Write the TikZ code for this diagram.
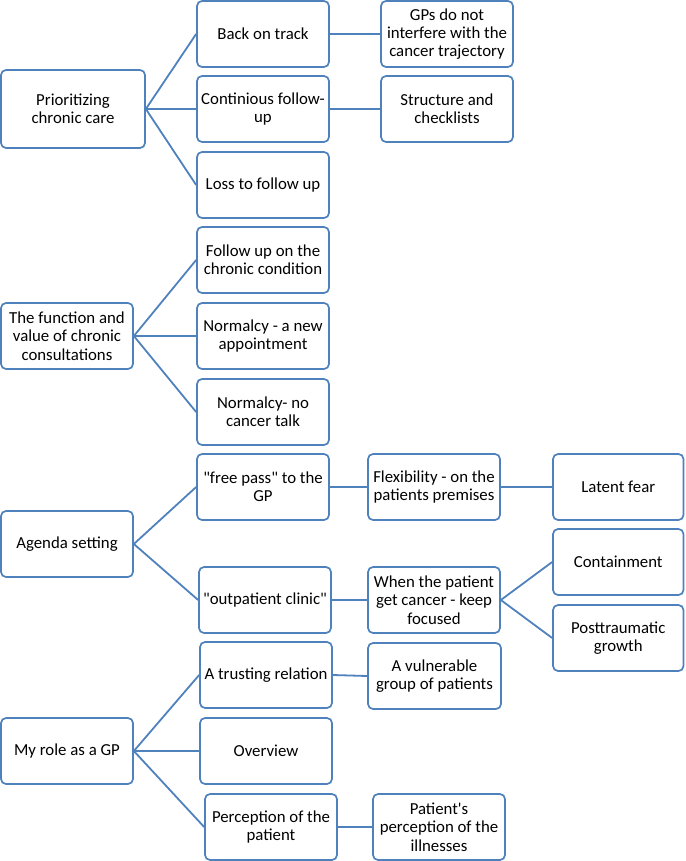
\documentclass[tikz,border=0pt]{standalone}
\usepackage{fontspec}
\newfontfamily\cf{Carlito}
\definecolor{boxblue}{RGB}{79,129,189}
\tikzset{
  box/.style={draw=boxblue, line width=1.7pt, rounded corners=5pt, fill=white,
    align=center, inner sep=0pt, font=\cf\fontsize{16.8}{18.3}\selectfont},
  conn/.style={draw=boxblue, line width=1.8pt}
}
\newcommand\bx[6]{\node[box, minimum width={#4-#2}, minimum height={#5-#3}] (#1) at ({(#2+#4)/2},{(#3+#5)/2}) {#6};}
\begin{document}
\begin{tikzpicture}[x=1pt,y=-1pt]
\useasboundingbox (0,0) rectangle (685,861);
% group 1
\bx{prio}{1}{70}{145}{148}{Prioritizing\\chronic care}
\bx{back}{197}{1}{329}{67}{Back on track}
\bx{cont}{197}{76}{329}{142}{Continious follow-\\up}
\bx{loss}{197}{152}{329}{218}{Loss to follow up}
\bx{gps}{381}{1}{513}{67}{GPs do not\\interfere with the\\cancer trajectory}
\bx{struct}{381}{76}{513}{142}{Structure and\\checklists}
% group 2
\bx{func}{1}{303}{133}{369}{The function and\\value of chronic\\consultations}
\bx{fup}{197}{227}{329}{293}{Follow up on the\\chronic condition}
\bx{newapp}{197}{303}{329}{369}{Normalcy - a new\\appointment}
\bx{notalk}{197}{379}{329}{445}{Normalcy- no\\cancer talk}
% group 3
\bx{agenda}{1}{511}{133}{577}{Agenda setting}
\bx{free}{197}{454}{329}{520}{"free pass" to the\\GP}
\bx{outp}{199}{567}{331}{633}{"outpatient clinic"}
\bx{flex}{368}{454}{500}{520}{Flexibility - on the\\patients premises}
\bx{latent}{553}{454}{683.5}{520}{Latent fear}
\bx{when}{368}{567}{500}{633}{When the patient\\get cancer - keep\\focused}
\bx{contain}{553}{529}{683.5}{595}{Containment}
\bx{post}{553}{605}{683.5}{671}{Posttraumatic\\growth}
% group 4
\bx{role}{1}{718}{133}{784}{My role as a GP}
\bx{trust}{200}{642}{332}{708}{A trusting relation}
\bx{over}{200}{718}{332}{784}{Overview}
\bx{perc}{205}{794}{337}{860}{Perception of the\\patient}
\bx{vuln}{368}{643}{501}{709}{A vulnerable\\group of patients}
\bx{pperc}{373}{794}{505}{860}{Patient's\\perception of the\\illnesses}
% connectors
\draw[conn] (prio.east) -- (back.west);
\draw[conn] (prio.east) -- (cont.west);
\draw[conn] (prio.east) -- (loss.west);
\draw[conn] (back.east) -- (gps.west);
\draw[conn] (cont.east) -- (struct.west);
\draw[conn] (func.east) -- (fup.west);
\draw[conn] (func.east) -- (newapp.west);
\draw[conn] (func.east) -- (notalk.west);
\draw[conn] (agenda.east) -- (free.west);
\draw[conn] (agenda.east) -- (outp.west);
\draw[conn] (free.east) -- (flex.west);
\draw[conn] (flex.east) -- (latent.west);
\draw[conn] (outp.east) -- (when.west);
\draw[conn] (when.east) -- (contain.west);
\draw[conn] (when.east) -- (post.west);
\draw[conn] (role.east) -- (trust.west);
\draw[conn] (role.east) -- (over.west);
\draw[conn] (role.east) -- (perc.west);
\draw[conn] (trust.east) -- (vuln.west);
\draw[conn] (perc.east) -- (pperc.west);
\end{tikzpicture}
\end{document}
